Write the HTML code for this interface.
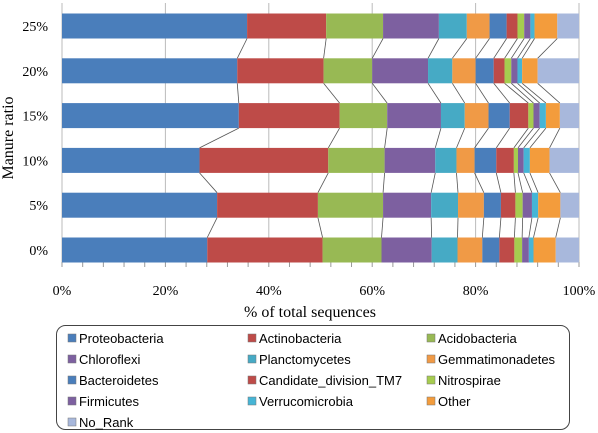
<!DOCTYPE html>
<html><head><meta charset="utf-8"><style>
body{margin:0;background:#fff;width:598px;height:433px;overflow:hidden}
svg{display:block}
</style></head><body>
<svg id="chart" width="598" height="433" xmlns="http://www.w3.org/2000/svg"></svg>
<script>
const categories = ["0%","5%","10%","15%","20%","25%"];
const seriesNames = ["Proteobacteria","Actinobacteria","Acidobacteria","Chloroflexi","Planctomycetes","Gemmatimonadetes","Bacteroidetes","Candidate_division_TM7","Nitrospirae","Firmicutes","Verrucomicrobia","Other","No_Rank"];
const seriesColors = ["#4a7ebb","#be4b48","#98b954","#7d60a0","#46aac5","#f09a46","#4a7ebb","#be4b48","#a6cc4f","#7d60a0","#46b5d6","#f39c3c","#a8b8dc"];
const v0  = [28.1,22.3,11.4,9.7,5.0,4.8,3.3,2.9,1.5,1.3,0.9,4.3,4.5];
const v5  = [30.0,19.5,12.6,9.3,5.2,5.0,3.3,2.8,1.4,1.8,1.2,4.3,3.6];
const v10 = [26.6,24.9,10.9,9.8,4.1,3.5,4.2,3.4,0.8,1.1,1.2,3.8,5.7];
const v15 = [34.2,19.5,9.2,10.4,4.6,4.6,4.1,3.6,1.0,1.2,1.2,2.7,3.7];
const v20 = [33.9,16.7,9.4,10.8,4.7,4.5,3.5,2.1,1.3,1.2,0.9,3.0,8.0];
const v25 = [35.8,15.3,11.0,10.8,5.4,4.4,3.3,2.1,1.3,1.2,0.8,4.4,4.2];
const rowValues = [v0,v5,v10,v15,v20,v25];
const xTicks = [0,20,40,60,80,100];

const NS="http://www.w3.org/2000/svg";
const svg=document.getElementById('chart');
const L=62,R=579,T=3,B=262,BH=25;
const xs=p=>L+(R-L)*p/100;
const yc=i=>250-i*44.8;
function mk(t,a,p){const e=document.createElementNS(NS,t);for(const k in a)e.setAttribute(k,a[k]);(p||svg).appendChild(e);return e;}

// grid + frame
xTicks.forEach(t=>{const g=mk('line',{x1:xs(t),x2:xs(t),y1:T,y2:B,stroke:'#bbb','stroke-width':1});

});
const ax=mk('line',{x1:L,x2:R,y1:B,y2:B,stroke:'#999'});


for(let t=0;t<=100;t+=4){mk('line',{x1:xs(t),x2:xs(t),y1:B,y2:B+5,stroke:'#999'});}

// connector lines
const cums=rowValues.map(v=>{let c=0;return v.map(x=>(c+=x));});
for(let i=0;i<categories.length-1;i++){
  for(let s=0;s<seriesNames.length-1;s++){
    const l=mk('line',{x1:xs(cums[i][s]),y1:yc(i)-BH/2,x2:xs(cums[i+1][s]),y2:yc(i+1)+BH/2,stroke:'#555','stroke-width':0.8});
    
    
  }
}
// bars
rowValues.forEach((vals,i)=>{let c=0;vals.forEach((v,s)=>{
  const r=mk('rect',{x:xs(c),y:yc(i)-BH/2,width:xs(c+v)-xs(c),height:BH,fill:seriesColors[s]});
  
  
  c+=v;});
  const tl=mk('text',{x:48,y:yc(i)+5,'text-anchor':'end','font-family':'Liberation Serif, serif','font-size':14,fill:'#000'});
  tl.textContent=categories[i];
  
  
});
xTicks.forEach(t=>{const e=mk('text',{x:xs(t),y:295,'text-anchor':'middle','font-family':'Liberation Serif, serif','font-size':14});
e.textContent=t+'%';

});
const xt=mk('text',{x:310,y:317,'text-anchor':'middle','font-family':'Liberation Serif, serif','font-size':16});
xt.textContent='% of total sequences';


const yt=mk('text',{x:0,y:0,transform:'translate(13,138) rotate(-90)','text-anchor':'middle','font-family':'Liberation Serif, serif','font-size':16});
yt.textContent='Manure ratio';



// legend
const lg=mk('g',{});


mk('rect',{x:56.5,y:325.5,width:513,height:104,rx:9,fill:'#fff',stroke:'#444'},lg);
const colX=[72,252,431];
seriesNames.forEach((n,s)=>{
  const g=mk('g',{},lg);
  
  
  const x=colX[s%3],y=338+Math.floor(s/3)*21;
  mk('rect',{x:x-4,y:y-4,width:8,height:8,fill:seriesColors[s],stroke:'#777','stroke-width':0.5},g);
  const t=mk('text',{x:x+7,y:y+5,'font-family':'Liberation Sans, sans-serif','font-size':13},g);
  t.textContent=n;
});
</script>
</body></html>
